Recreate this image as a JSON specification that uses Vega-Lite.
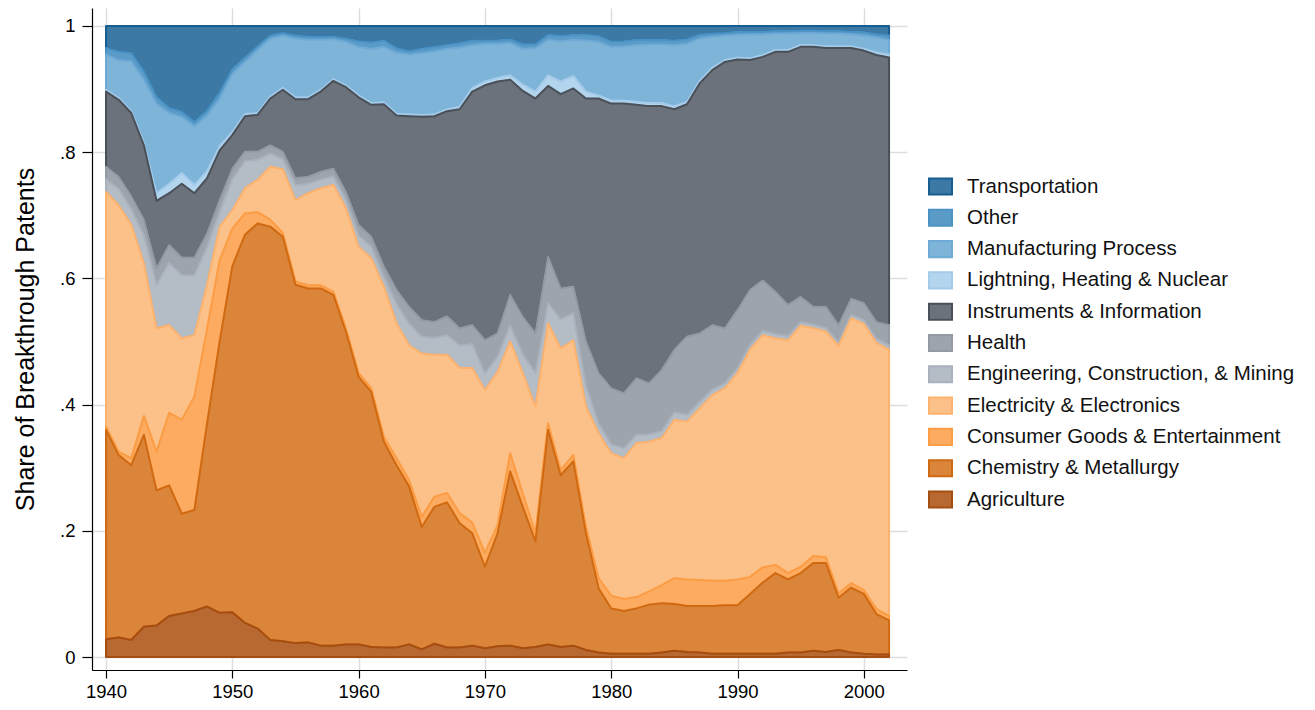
{
"$schema": "https://vega.github.io/schema/vega-lite/v6.json",
"width": 815, "height": 662,
"autosize": "none",
"padding": {"left": 92, "top": 8, "right": 408, "bottom": 40},
"background": "white",
"config": {"view": {"stroke": null}, "font": "Liberation Sans"},
"data": {"values": [
{"year":1940,"cat":"Transportation","share":0.035},{"year":1941,"cat":"Transportation","share":0.041},{"year":1942,"cat":"Transportation","share":0.043},{"year":1943,"cat":"Transportation","share":0.072},{"year":1944,"cat":"Transportation","share":0.112},{"year":1945,"cat":"Transportation","share":0.130},{"year":1946,"cat":"Transportation","share":0.136},{"year":1947,"cat":"Transportation","share":0.152},{"year":1948,"cat":"Transportation","share":0.134},{"year":1949,"cat":"Transportation","share":0.105},
{"year":1950,"cat":"Transportation","share":0.068},{"year":1951,"cat":"Transportation","share":0.050},{"year":1952,"cat":"Transportation","share":0.032},{"year":1953,"cat":"Transportation","share":0.015},{"year":1954,"cat":"Transportation","share":0.011},{"year":1955,"cat":"Transportation","share":0.015},{"year":1956,"cat":"Transportation","share":0.017},{"year":1957,"cat":"Transportation","share":0.017},{"year":1958,"cat":"Transportation","share":0.017},{"year":1959,"cat":"Transportation","share":0.020},
{"year":1960,"cat":"Transportation","share":0.024},{"year":1961,"cat":"Transportation","share":0.026},{"year":1962,"cat":"Transportation","share":0.023},{"year":1963,"cat":"Transportation","share":0.035},{"year":1964,"cat":"Transportation","share":0.040},{"year":1965,"cat":"Transportation","share":0.036},{"year":1966,"cat":"Transportation","share":0.033},{"year":1967,"cat":"Transportation","share":0.030},{"year":1968,"cat":"Transportation","share":0.027},{"year":1969,"cat":"Transportation","share":0.023},
{"year":1970,"cat":"Transportation","share":0.023},{"year":1971,"cat":"Transportation","share":0.023},{"year":1972,"cat":"Transportation","share":0.021},{"year":1973,"cat":"Transportation","share":0.029},{"year":1974,"cat":"Transportation","share":0.029},{"year":1975,"cat":"Transportation","share":0.014},{"year":1976,"cat":"Transportation","share":0.016},{"year":1977,"cat":"Transportation","share":0.014},{"year":1978,"cat":"Transportation","share":0.014},{"year":1979,"cat":"Transportation","share":0.016},
{"year":1980,"cat":"Transportation","share":0.025},{"year":1981,"cat":"Transportation","share":0.024},{"year":1982,"cat":"Transportation","share":0.022},{"year":1983,"cat":"Transportation","share":0.022},{"year":1984,"cat":"Transportation","share":0.022},{"year":1985,"cat":"Transportation","share":0.023},{"year":1986,"cat":"Transportation","share":0.021},{"year":1987,"cat":"Transportation","share":0.014},{"year":1988,"cat":"Transportation","share":0.012},{"year":1989,"cat":"Transportation","share":0.011},
{"year":1990,"cat":"Transportation","share":0.009},{"year":1991,"cat":"Transportation","share":0.009},{"year":1992,"cat":"Transportation","share":0.009},{"year":1993,"cat":"Transportation","share":0.008},{"year":1994,"cat":"Transportation","share":0.008},{"year":1995,"cat":"Transportation","share":0.007},{"year":1996,"cat":"Transportation","share":0.007},{"year":1997,"cat":"Transportation","share":0.008},{"year":1998,"cat":"Transportation","share":0.008},{"year":1999,"cat":"Transportation","share":0.009},
{"year":2000,"cat":"Transportation","share":0.010},{"year":2001,"cat":"Transportation","share":0.013},{"year":2002,"cat":"Transportation","share":0.015},
{"year":1940,"cat":"Other","share":0.010},{"year":1941,"cat":"Other","share":0.013},{"year":1942,"cat":"Other","share":0.013},{"year":1943,"cat":"Other","share":0.013},{"year":1944,"cat":"Other","share":0.011},{"year":1945,"cat":"Other","share":0.008},{"year":1946,"cat":"Other","share":0.008},{"year":1947,"cat":"Other","share":0.007},{"year":1948,"cat":"Other","share":0.008},{"year":1949,"cat":"Other","share":0.010},
{"year":1950,"cat":"Other","share":0.008},{"year":1951,"cat":"Other","share":0.007},{"year":1952,"cat":"Other","share":0.006},{"year":1953,"cat":"Other","share":0.005},{"year":1954,"cat":"Other","share":0.004},{"year":1955,"cat":"Other","share":0.005},{"year":1956,"cat":"Other","share":0.005},{"year":1957,"cat":"Other","share":0.005},{"year":1958,"cat":"Other","share":0.004},{"year":1959,"cat":"Other","share":0.005},
{"year":1960,"cat":"Other","share":0.009},{"year":1961,"cat":"Other","share":0.010},{"year":1962,"cat":"Other","share":0.010},{"year":1963,"cat":"Other","share":0.007},{"year":1964,"cat":"Other","share":0.005},{"year":1965,"cat":"Other","share":0.007},{"year":1966,"cat":"Other","share":0.007},{"year":1967,"cat":"Other","share":0.006},{"year":1968,"cat":"Other","share":0.007},{"year":1969,"cat":"Other","share":0.007},
{"year":1970,"cat":"Other","share":0.005},{"year":1971,"cat":"Other","share":0.005},{"year":1972,"cat":"Other","share":0.006},{"year":1973,"cat":"Other","share":0.007},{"year":1974,"cat":"Other","share":0.006},{"year":1975,"cat":"Other","share":0.008},{"year":1976,"cat":"Other","share":0.008},{"year":1977,"cat":"Other","share":0.008},{"year":1978,"cat":"Other","share":0.009},{"year":1979,"cat":"Other","share":0.009},
{"year":1980,"cat":"Other","share":0.008},{"year":1981,"cat":"Other","share":0.008},{"year":1982,"cat":"Other","share":0.008},{"year":1983,"cat":"Other","share":0.007},{"year":1984,"cat":"Other","share":0.007},{"year":1985,"cat":"Other","share":0.007},{"year":1986,"cat":"Other","share":0.007},{"year":1987,"cat":"Other","share":0.006},{"year":1988,"cat":"Other","share":0.005},{"year":1989,"cat":"Other","share":0.004},
{"year":1990,"cat":"Other","share":0.005},{"year":1991,"cat":"Other","share":0.004},{"year":1992,"cat":"Other","share":0.004},{"year":1993,"cat":"Other","share":0.004},{"year":1994,"cat":"Other","share":0.004},{"year":1995,"cat":"Other","share":0.004},{"year":1996,"cat":"Other","share":0.004},{"year":1997,"cat":"Other","share":0.004},{"year":1998,"cat":"Other","share":0.004},{"year":1999,"cat":"Other","share":0.004},
{"year":2000,"cat":"Other","share":0.005},{"year":2001,"cat":"Other","share":0.005},{"year":2002,"cat":"Other","share":0.007},
{"year":1940,"cat":"Manufacturing Process","share":0.056},{"year":1941,"cat":"Manufacturing Process","share":0.060},{"year":1942,"cat":"Manufacturing Process","share":0.079},{"year":1943,"cat":"Manufacturing Process","share":0.100},{"year":1944,"cat":"Manufacturing Process","share":0.142},{"year":1945,"cat":"Manufacturing Process","share":0.112},{"year":1946,"cat":"Manufacturing Process","share":0.089},{"year":1947,"cat":"Manufacturing Process","share":0.093},{"year":1948,"cat":"Manufacturing Process","share":0.088},{"year":1949,"cat":"Manufacturing Process","share":0.075},
{"year":1950,"cat":"Manufacturing Process","share":0.092},{"year":1951,"cat":"Manufacturing Process","share":0.082},{"year":1952,"cat":"Manufacturing Process","share":0.100},{"year":1953,"cat":"Manufacturing Process","share":0.092},{"year":1954,"cat":"Manufacturing Process","share":0.083},{"year":1955,"cat":"Manufacturing Process","share":0.093},{"year":1956,"cat":"Manufacturing Process","share":0.091},{"year":1957,"cat":"Manufacturing Process","share":0.079},{"year":1958,"cat":"Manufacturing Process","share":0.063},{"year":1959,"cat":"Manufacturing Process","share":0.069},
{"year":1960,"cat":"Manufacturing Process","share":0.077},{"year":1961,"cat":"Manufacturing Process","share":0.086},{"year":1962,"cat":"Manufacturing Process","share":0.088},{"year":1963,"cat":"Manufacturing Process","share":0.097},{"year":1964,"cat":"Manufacturing Process","share":0.095},{"year":1965,"cat":"Manufacturing Process","share":0.098},{"year":1966,"cat":"Manufacturing Process","share":0.100},{"year":1967,"cat":"Manufacturing Process","share":0.096},{"year":1968,"cat":"Manufacturing Process","share":0.094},{"year":1969,"cat":"Manufacturing Process","share":0.068},
{"year":1970,"cat":"Manufacturing Process","share":0.060},{"year":1971,"cat":"Manufacturing Process","share":0.054},{"year":1972,"cat":"Manufacturing Process","share":0.051},{"year":1973,"cat":"Manufacturing Process","share":0.057},{"year":1974,"cat":"Manufacturing Process","share":0.069},{"year":1975,"cat":"Manufacturing Process","share":0.056},{"year":1976,"cat":"Manufacturing Process","share":0.064},{"year":1977,"cat":"Manufacturing Process","share":0.057},{"year":1978,"cat":"Manufacturing Process","share":0.081},{"year":1979,"cat":"Manufacturing Process","share":0.085},
{"year":1980,"cat":"Manufacturing Process","share":0.085},{"year":1981,"cat":"Manufacturing Process","share":0.086},{"year":1982,"cat":"Manufacturing Process","share":0.090},{"year":1983,"cat":"Manufacturing Process","share":0.093},{"year":1984,"cat":"Manufacturing Process","share":0.093},{"year":1985,"cat":"Manufacturing Process","share":0.097},{"year":1986,"cat":"Manufacturing Process","share":0.092},{"year":1987,"cat":"Manufacturing Process","share":0.067},{"year":1988,"cat":"Manufacturing Process","share":0.049},{"year":1989,"cat":"Manufacturing Process","share":0.039},
{"year":1990,"cat":"Manufacturing Process","share":0.036},{"year":1991,"cat":"Manufacturing Process","share":0.038},{"year":1992,"cat":"Manufacturing Process","share":0.033},{"year":1993,"cat":"Manufacturing Process","share":0.026},{"year":1994,"cat":"Manufacturing Process","share":0.026},{"year":1995,"cat":"Manufacturing Process","share":0.019},{"year":1996,"cat":"Manufacturing Process","share":0.019},{"year":1997,"cat":"Manufacturing Process","share":0.020},{"year":1998,"cat":"Manufacturing Process","share":0.020},{"year":1999,"cat":"Manufacturing Process","share":0.019},
{"year":2000,"cat":"Manufacturing Process","share":0.021},{"year":2001,"cat":"Manufacturing Process","share":0.024},{"year":2002,"cat":"Manufacturing Process","share":0.023},
{"year":1940,"cat":"Lightning, Heating & Nuclear","share":0.003},{"year":1941,"cat":"Lightning, Heating & Nuclear","share":0.003},{"year":1942,"cat":"Lightning, Heating & Nuclear","share":0.003},{"year":1943,"cat":"Lightning, Heating & Nuclear","share":0.004},{"year":1944,"cat":"Lightning, Heating & Nuclear","share":0.012},{"year":1945,"cat":"Lightning, Heating & Nuclear","share":0.015},{"year":1946,"cat":"Lightning, Heating & Nuclear","share":0.017},{"year":1947,"cat":"Lightning, Heating & Nuclear","share":0.013},{"year":1948,"cat":"Lightning, Heating & Nuclear","share":0.011},{"year":1949,"cat":"Lightning, Heating & Nuclear","share":0.007},
{"year":1950,"cat":"Lightning, Heating & Nuclear","share":0.005},{"year":1951,"cat":"Lightning, Heating & Nuclear","share":0.004},{"year":1952,"cat":"Lightning, Heating & Nuclear","share":0.003},{"year":1953,"cat":"Lightning, Heating & Nuclear","share":0.003},{"year":1954,"cat":"Lightning, Heating & Nuclear","share":0.003},{"year":1955,"cat":"Lightning, Heating & Nuclear","share":0.003},{"year":1956,"cat":"Lightning, Heating & Nuclear","share":0.003},{"year":1957,"cat":"Lightning, Heating & Nuclear","share":0.003},{"year":1958,"cat":"Lightning, Heating & Nuclear","share":0.003},{"year":1959,"cat":"Lightning, Heating & Nuclear","share":0.003},
{"year":1960,"cat":"Lightning, Heating & Nuclear","share":0.003},{"year":1961,"cat":"Lightning, Heating & Nuclear","share":0.003},{"year":1962,"cat":"Lightning, Heating & Nuclear","share":0.003},{"year":1963,"cat":"Lightning, Heating & Nuclear","share":0.003},{"year":1964,"cat":"Lightning, Heating & Nuclear","share":0.003},{"year":1965,"cat":"Lightning, Heating & Nuclear","share":0.003},{"year":1966,"cat":"Lightning, Heating & Nuclear","share":0.003},{"year":1967,"cat":"Lightning, Heating & Nuclear","share":0.003},{"year":1968,"cat":"Lightning, Heating & Nuclear","share":0.004},{"year":1969,"cat":"Lightning, Heating & Nuclear","share":0.006},
{"year":1970,"cat":"Lightning, Heating & Nuclear","share":0.006},{"year":1971,"cat":"Lightning, Heating & Nuclear","share":0.006},{"year":1972,"cat":"Lightning, Heating & Nuclear","share":0.007},{"year":1973,"cat":"Lightning, Heating & Nuclear","share":0.010},{"year":1974,"cat":"Lightning, Heating & Nuclear","share":0.011},{"year":1975,"cat":"Lightning, Heating & Nuclear","share":0.017},{"year":1976,"cat":"Lightning, Heating & Nuclear","share":0.020},{"year":1977,"cat":"Lightning, Heating & Nuclear","share":0.020},{"year":1978,"cat":"Lightning, Heating & Nuclear","share":0.011},{"year":1979,"cat":"Lightning, Heating & Nuclear","share":0.005},
{"year":1980,"cat":"Lightning, Heating & Nuclear","share":0.005},{"year":1981,"cat":"Lightning, Heating & Nuclear","share":0.005},{"year":1982,"cat":"Lightning, Heating & Nuclear","share":0.005},{"year":1983,"cat":"Lightning, Heating & Nuclear","share":0.005},{"year":1984,"cat":"Lightning, Heating & Nuclear","share":0.005},{"year":1985,"cat":"Lightning, Heating & Nuclear","share":0.005},{"year":1986,"cat":"Lightning, Heating & Nuclear","share":0.004},{"year":1987,"cat":"Lightning, Heating & Nuclear","share":0.004},{"year":1988,"cat":"Lightning, Heating & Nuclear","share":0.004},{"year":1989,"cat":"Lightning, Heating & Nuclear","share":0.003},
{"year":1990,"cat":"Lightning, Heating & Nuclear","share":0.003},{"year":1991,"cat":"Lightning, Heating & Nuclear","share":0.003},{"year":1992,"cat":"Lightning, Heating & Nuclear","share":0.003},{"year":1993,"cat":"Lightning, Heating & Nuclear","share":0.003},{"year":1994,"cat":"Lightning, Heating & Nuclear","share":0.003},{"year":1995,"cat":"Lightning, Heating & Nuclear","share":0.003},{"year":1996,"cat":"Lightning, Heating & Nuclear","share":0.003},{"year":1997,"cat":"Lightning, Heating & Nuclear","share":0.003},{"year":1998,"cat":"Lightning, Heating & Nuclear","share":0.003},{"year":1999,"cat":"Lightning, Heating & Nuclear","share":0.003},
{"year":2000,"cat":"Lightning, Heating & Nuclear","share":0.003},{"year":2001,"cat":"Lightning, Heating & Nuclear","share":0.004},{"year":2002,"cat":"Lightning, Heating & Nuclear","share":0.005},
{"year":1940,"cat":"Instruments & Information","share":0.119},{"year":1941,"cat":"Instruments & Information","share":0.122},{"year":1942,"cat":"Instruments & Information","share":0.132},{"year":1943,"cat":"Instruments & Information","share":0.118},{"year":1944,"cat":"Instruments & Information","share":0.107},{"year":1945,"cat":"Instruments & Information","share":0.082},{"year":1946,"cat":"Instruments & Information","share":0.117},{"year":1947,"cat":"Instruments & Information","share":0.102},{"year":1948,"cat":"Instruments & Information","share":0.088},{"year":1949,"cat":"Instruments & Information","share":0.079},
{"year":1950,"cat":"Instruments & Information","share":0.053},{"year":1951,"cat":"Instruments & Information","share":0.056},{"year":1952,"cat":"Instruments & Information","share":0.058},{"year":1953,"cat":"Instruments & Information","share":0.074},{"year":1954,"cat":"Instruments & Information","share":0.098},{"year":1955,"cat":"Instruments & Information","share":0.125},{"year":1956,"cat":"Instruments & Information","share":0.123},{"year":1957,"cat":"Instruments & Information","share":0.127},{"year":1958,"cat":"Instruments & Information","share":0.139},{"year":1959,"cat":"Instruments & Information","share":0.166},
{"year":1960,"cat":"Instruments & Information","share":0.202},{"year":1961,"cat":"Instruments & Information","share":0.209},{"year":1962,"cat":"Instruments & Information","share":0.257},{"year":1963,"cat":"Instruments & Information","share":0.276},{"year":1964,"cat":"Instruments & Information","share":0.302},{"year":1965,"cat":"Instruments & Information","share":0.322},{"year":1966,"cat":"Instruments & Information","share":0.326},{"year":1967,"cat":"Instruments & Information","share":0.325},{"year":1968,"cat":"Instruments & Information","share":0.347},{"year":1969,"cat":"Instruments & Information","share":0.370},
{"year":1970,"cat":"Instruments & Information","share":0.404},{"year":1971,"cat":"Instruments & Information","share":0.399},{"year":1972,"cat":"Instruments & Information","share":0.341},{"year":1973,"cat":"Instruments & Information","share":0.358},{"year":1974,"cat":"Instruments & Information","share":0.372},{"year":1975,"cat":"Instruments & Information","share":0.271},{"year":1976,"cat":"Instruments & Information","share":0.308},{"year":1977,"cat":"Instruments & Information","share":0.314},{"year":1978,"cat":"Instruments & Information","share":0.385},{"year":1979,"cat":"Instruments & Information","share":0.435},
{"year":1980,"cat":"Instruments & Information","share":0.451},{"year":1981,"cat":"Instruments & Information","share":0.459},{"year":1982,"cat":"Instruments & Information","share":0.433},{"year":1983,"cat":"Instruments & Information","share":0.439},{"year":1984,"cat":"Instruments & Information","share":0.418},{"year":1985,"cat":"Instruments & Information","share":0.381},{"year":1986,"cat":"Instruments & Information","share":0.368},{"year":1987,"cat":"Instruments & Information","share":0.396},{"year":1988,"cat":"Instruments & Information","share":0.404},{"year":1989,"cat":"Instruments & Information","share":0.422},
{"year":1990,"cat":"Instruments & Information","share":0.397},{"year":1991,"cat":"Instruments & Information","share":0.364},{"year":1992,"cat":"Instruments & Information","share":0.354},{"year":1993,"cat":"Instruments & Information","share":0.380},{"year":1994,"cat":"Instruments & Information","share":0.401},{"year":1995,"cat":"Instruments & Information","share":0.396},{"year":1996,"cat":"Instruments & Information","share":0.412},{"year":1997,"cat":"Instruments & Information","share":0.410},{"year":1998,"cat":"Instruments & Information","share":0.439},{"year":1999,"cat":"Instruments & Information","share":0.397},
{"year":2000,"cat":"Instruments & Information","share":0.400},{"year":2001,"cat":"Instruments & Information","share":0.423},{"year":2002,"cat":"Instruments & Information","share":0.424},
{"year":1940,"cat":"Health","share":0.020},{"year":1941,"cat":"Health","share":0.019},{"year":1942,"cat":"Health","share":0.020},{"year":1943,"cat":"Health","share":0.025},{"year":1944,"cat":"Health","share":0.026},{"year":1945,"cat":"Health","share":0.028},{"year":1946,"cat":"Health","share":0.028},{"year":1947,"cat":"Health","share":0.028},{"year":1948,"cat":"Health","share":0.021},{"year":1949,"cat":"Health","share":0.019},
{"year":1950,"cat":"Health","share":0.017},{"year":1951,"cat":"Health","share":0.015},{"year":1952,"cat":"Health","share":0.013},{"year":1953,"cat":"Health","share":0.013},{"year":1954,"cat":"Health","share":0.012},{"year":1955,"cat":"Health","share":0.011},{"year":1956,"cat":"Health","share":0.011},{"year":1957,"cat":"Health","share":0.012},{"year":1958,"cat":"Health","share":0.012},{"year":1959,"cat":"Health","share":0.012},
{"year":1960,"cat":"Health","share":0.017},{"year":1961,"cat":"Health","share":0.016},{"year":1962,"cat":"Health","share":0.016},{"year":1963,"cat":"Health","share":0.022},{"year":1964,"cat":"Health","share":0.027},{"year":1965,"cat":"Health","share":0.026},{"year":1966,"cat":"Health","share":0.025},{"year":1967,"cat":"Health","share":0.030},{"year":1968,"cat":"Health","share":0.027},{"year":1969,"cat":"Health","share":0.030},
{"year":1970,"cat":"Health","share":0.052},{"year":1971,"cat":"Health","share":0.037},{"year":1972,"cat":"Health","share":0.048},{"year":1973,"cat":"Health","share":0.059},{"year":1974,"cat":"Health","share":0.063},{"year":1975,"cat":"Health","share":0.073},{"year":1976,"cat":"Health","share":0.049},{"year":1977,"cat":"Health","share":0.042},{"year":1978,"cat":"Health","share":0.070},{"year":1979,"cat":"Health","share":0.080},
{"year":1980,"cat":"Health","share":0.089},{"year":1981,"cat":"Health","share":0.087},{"year":1982,"cat":"Health","share":0.090},{"year":1983,"cat":"Health","share":0.081},{"year":1984,"cat":"Health","share":0.097},{"year":1985,"cat":"Health","share":0.099},{"year":1986,"cat":"Health","share":0.124},{"year":1987,"cat":"Health","share":0.109},{"year":1988,"cat":"Health","share":0.102},{"year":1989,"cat":"Health","share":0.087},
{"year":1990,"cat":"Health","share":0.092},{"year":1991,"cat":"Health","share":0.087},{"year":1992,"cat":"Health","share":0.080},{"year":1993,"cat":"Health","share":0.067},{"year":1994,"cat":"Health","share":0.049},{"year":1995,"cat":"Health","share":0.040},{"year":1996,"cat":"Health","share":0.028},{"year":1997,"cat":"Health","share":0.033},{"year":1998,"cat":"Health","share":0.027},{"year":1999,"cat":"Health","share":0.025},
{"year":2000,"cat":"Health","share":0.027},{"year":2001,"cat":"Health","share":0.026},{"year":2002,"cat":"Health","share":0.032},
{"year":1940,"cat":"Engineering, Construction, & Mining","share":0.020},{"year":1941,"cat":"Engineering, Construction, & Mining","share":0.026},{"year":1942,"cat":"Engineering, Construction, & Mining","share":0.025},{"year":1943,"cat":"Engineering, Construction, & Mining","share":0.044},{"year":1944,"cat":"Engineering, Construction, & Mining","share":0.069},{"year":1945,"cat":"Engineering, Construction, & Mining","share":0.099},{"year":1946,"cat":"Engineering, Construction, & Mining","share":0.100},{"year":1947,"cat":"Engineering, Construction, & Mining","share":0.095},{"year":1948,"cat":"Engineering, Construction, & Mining","share":0.060},{"year":1949,"cat":"Engineering, Construction, & Mining","share":0.023},
{"year":1950,"cat":"Engineering, Construction, & Mining","share":0.049},{"year":1951,"cat":"Engineering, Construction, & Mining","share":0.043},{"year":1952,"cat":"Engineering, Construction, & Mining","share":0.032},{"year":1953,"cat":"Engineering, Construction, & Mining","share":0.021},{"year":1954,"cat":"Engineering, Construction, & Mining","share":0.016},{"year":1955,"cat":"Engineering, Construction, & Mining","share":0.024},{"year":1956,"cat":"Engineering, Construction, & Mining","share":0.015},{"year":1957,"cat":"Engineering, Construction, & Mining","share":0.014},{"year":1958,"cat":"Engineering, Construction, & Mining","share":0.014},{"year":1959,"cat":"Engineering, Construction, & Mining","share":0.014},
{"year":1960,"cat":"Engineering, Construction, & Mining","share":0.018},{"year":1961,"cat":"Engineering, Construction, & Mining","share":0.018},{"year":1962,"cat":"Engineering, Construction, & Mining","share":0.016},{"year":1963,"cat":"Engineering, Construction, & Mining","share":0.031},{"year":1964,"cat":"Engineering, Construction, & Mining","share":0.034},{"year":1965,"cat":"Engineering, Construction, & Mining","share":0.027},{"year":1966,"cat":"Engineering, Construction, & Mining","share":0.027},{"year":1967,"cat":"Engineering, Construction, & Mining","share":0.031},{"year":1968,"cat":"Engineering, Construction, & Mining","share":0.036},{"year":1969,"cat":"Engineering, Construction, & Mining","share":0.038},
{"year":1970,"cat":"Engineering, Construction, & Mining","share":0.027},{"year":1971,"cat":"Engineering, Construction, & Mining","share":0.024},{"year":1972,"cat":"Engineering, Construction, & Mining","share":0.026},{"year":1973,"cat":"Engineering, Construction, & Mining","share":0.030},{"year":1974,"cat":"Engineering, Construction, & Mining","share":0.053},{"year":1975,"cat":"Engineering, Construction, & Mining","share":0.032},{"year":1976,"cat":"Engineering, Construction, & Mining","share":0.046},{"year":1977,"cat":"Engineering, Construction, & Mining","share":0.043},{"year":1978,"cat":"Engineering, Construction, & Mining","share":0.033},{"year":1979,"cat":"Engineering, Construction, & Mining","share":0.015},
{"year":1980,"cat":"Engineering, Construction, & Mining","share":0.014},{"year":1981,"cat":"Engineering, Construction, & Mining","share":0.016},{"year":1982,"cat":"Engineering, Construction, & Mining","share":0.013},{"year":1983,"cat":"Engineering, Construction, & Mining","share":0.012},{"year":1984,"cat":"Engineering, Construction, & Mining","share":0.011},{"year":1985,"cat":"Engineering, Construction, & Mining","share":0.012},{"year":1986,"cat":"Engineering, Construction, & Mining","share":0.011},{"year":1987,"cat":"Engineering, Construction, & Mining","share":0.010},{"year":1988,"cat":"Engineering, Construction, & Mining","share":0.009},{"year":1989,"cat":"Engineering, Construction, & Mining","share":0.008},
{"year":1990,"cat":"Engineering, Construction, & Mining","share":0.008},{"year":1991,"cat":"Engineering, Construction, & Mining","share":0.008},{"year":1992,"cat":"Engineering, Construction, & Mining","share":0.007},{"year":1993,"cat":"Engineering, Construction, & Mining","share":0.007},{"year":1994,"cat":"Engineering, Construction, & Mining","share":0.007},{"year":1995,"cat":"Engineering, Construction, & Mining","share":0.006},{"year":1996,"cat":"Engineering, Construction, & Mining","share":0.006},{"year":1997,"cat":"Engineering, Construction, & Mining","share":0.006},{"year":1998,"cat":"Engineering, Construction, & Mining","share":0.006},{"year":1999,"cat":"Engineering, Construction, & Mining","share":0.006},
{"year":2000,"cat":"Engineering, Construction, & Mining","share":0.006},{"year":2001,"cat":"Engineering, Construction, & Mining","share":0.007},{"year":2002,"cat":"Engineering, Construction, & Mining","share":0.007},
{"year":1940,"cat":"Electricity & Electronics","share":0.372},{"year":1941,"cat":"Electricity & Electronics","share":0.391},{"year":1942,"cat":"Electricity & Electronics","share":0.370},{"year":1943,"cat":"Electricity & Electronics","share":0.242},{"year":1944,"cat":"Electricity & Electronics","share":0.196},{"year":1945,"cat":"Electricity & Electronics","share":0.139},{"year":1946,"cat":"Electricity & Electronics","share":0.129},{"year":1947,"cat":"Electricity & Electronics","share":0.097},{"year":1948,"cat":"Electricity & Electronics","share":0.070},{"year":1949,"cat":"Electricity & Electronics","share":0.053},
{"year":1950,"cat":"Electricity & Electronics","share":0.029},{"year":1951,"cat":"Electricity & Electronics","share":0.040},{"year":1952,"cat":"Electricity & Electronics","share":0.051},{"year":1953,"cat":"Electricity & Electronics","share":0.084},{"year":1954,"cat":"Electricity & Electronics","share":0.101},{"year":1955,"cat":"Electricity & Electronics","share":0.129},{"year":1956,"cat":"Electricity & Electronics","share":0.146},{"year":1957,"cat":"Electricity & Electronics","share":0.154},{"year":1958,"cat":"Electricity & Electronics","share":0.169},{"year":1959,"cat":"Electricity & Electronics","share":0.191},
{"year":1960,"cat":"Electricity & Electronics","share":0.200},{"year":1961,"cat":"Electricity & Electronics","share":0.206},{"year":1962,"cat":"Electricity & Electronics","share":0.238},{"year":1963,"cat":"Electricity & Electronics","share":0.214},{"year":1964,"cat":"Electricity & Electronics","share":0.214},{"year":1965,"cat":"Electricity & Electronics","share":0.259},{"year":1966,"cat":"Electricity & Electronics","share":0.225},{"year":1967,"cat":"Electricity & Electronics","share":0.219},{"year":1968,"cat":"Electricity & Electronics","share":0.230},{"year":1969,"cat":"Electricity & Electronics","share":0.245},
{"year":1970,"cat":"Electricity & Electronics","share":0.258},{"year":1971,"cat":"Electricity & Electronics","share":0.243},{"year":1972,"cat":"Electricity & Electronics","share":0.177},{"year":1973,"cat":"Electricity & Electronics","share":0.191},{"year":1974,"cat":"Electricity & Electronics","share":0.201},{"year":1975,"cat":"Electricity & Electronics","share":0.159},{"year":1976,"cat":"Electricity & Electronics","share":0.193},{"year":1977,"cat":"Electricity & Electronics","share":0.182},{"year":1978,"cat":"Electricity & Electronics","share":0.191},{"year":1979,"cat":"Electricity & Electronics","share":0.230},
{"year":1980,"cat":"Electricity & Electronics","share":0.226},{"year":1981,"cat":"Electricity & Electronics","share":0.223},{"year":1982,"cat":"Electricity & Electronics","share":0.244},{"year":1983,"cat":"Electricity & Electronics","share":0.237},{"year":1984,"cat":"Electricity & Electronics","share":0.233},{"year":1985,"cat":"Electricity & Electronics","share":0.251},{"year":1986,"cat":"Electricity & Electronics","share":0.250},{"year":1987,"cat":"Electricity & Electronics","share":0.272},{"year":1988,"cat":"Electricity & Electronics","share":0.294},{"year":1989,"cat":"Electricity & Electronics","share":0.305},
{"year":1990,"cat":"Electricity & Electronics","share":0.327},{"year":1991,"cat":"Electricity & Electronics","share":0.360},{"year":1992,"cat":"Electricity & Electronics","share":0.368},{"year":1993,"cat":"Electricity & Electronics","share":0.359},{"year":1994,"cat":"Electricity & Electronics","share":0.369},{"year":1995,"cat":"Electricity & Electronics","share":0.382},{"year":1996,"cat":"Electricity & Electronics","share":0.361},{"year":1997,"cat":"Electricity & Electronics","share":0.358},{"year":1998,"cat":"Electricity & Electronics","share":0.392},{"year":1999,"cat":"Electricity & Electronics","share":0.420},
{"year":2000,"cat":"Electricity & Electronics","share":0.422},{"year":2001,"cat":"Electricity & Electronics","share":0.422},{"year":2002,"cat":"Electricity & Electronics","share":0.422},
{"year":1940,"cat":"Consumer Goods & Entertainment","share":0.005},{"year":1941,"cat":"Consumer Goods & Entertainment","share":0.005},{"year":1942,"cat":"Consumer Goods & Entertainment","share":0.011},{"year":1943,"cat":"Consumer Goods & Entertainment","share":0.030},{"year":1944,"cat":"Consumer Goods & Entertainment","share":0.061},{"year":1945,"cat":"Consumer Goods & Entertainment","share":0.115},{"year":1946,"cat":"Consumer Goods & Entertainment","share":0.149},{"year":1947,"cat":"Consumer Goods & Entertainment","share":0.180},{"year":1948,"cat":"Consumer Goods & Entertainment","share":0.150},{"year":1949,"cat":"Consumer Goods & Entertainment","share":0.129},
{"year":1950,"cat":"Consumer Goods & Entertainment","share":0.060},{"year":1951,"cat":"Consumer Goods & Entertainment","share":0.034},{"year":1952,"cat":"Consumer Goods & Entertainment","share":0.018},{"year":1953,"cat":"Consumer Goods & Entertainment","share":0.011},{"year":1954,"cat":"Consumer Goods & Entertainment","share":0.006},{"year":1955,"cat":"Consumer Goods & Entertainment","share":0.005},{"year":1956,"cat":"Consumer Goods & Entertainment","share":0.005},{"year":1957,"cat":"Consumer Goods & Entertainment","share":0.005},{"year":1958,"cat":"Consumer Goods & Entertainment","share":0.005},{"year":1959,"cat":"Consumer Goods & Entertainment","share":0.005},
{"year":1960,"cat":"Consumer Goods & Entertainment","share":0.006},{"year":1961,"cat":"Consumer Goods & Entertainment","share":0.006},{"year":1962,"cat":"Consumer Goods & Entertainment","share":0.008},{"year":1963,"cat":"Consumer Goods & Entertainment","share":0.011},{"year":1964,"cat":"Consumer Goods & Entertainment","share":0.010},{"year":1965,"cat":"Consumer Goods & Entertainment","share":0.016},{"year":1966,"cat":"Consumer Goods & Entertainment","share":0.016},{"year":1967,"cat":"Consumer Goods & Entertainment","share":0.015},{"year":1968,"cat":"Consumer Goods & Entertainment","share":0.016},{"year":1969,"cat":"Consumer Goods & Entertainment","share":0.017},
{"year":1970,"cat":"Consumer Goods & Entertainment","share":0.022},{"year":1971,"cat":"Consumer Goods & Entertainment","share":0.013},{"year":1972,"cat":"Consumer Goods & Entertainment","share":0.029},{"year":1973,"cat":"Consumer Goods & Entertainment","share":0.021},{"year":1974,"cat":"Consumer Goods & Entertainment","share":0.013},{"year":1975,"cat":"Consumer Goods & Entertainment","share":0.010},{"year":1976,"cat":"Consumer Goods & Entertainment","share":0.008},{"year":1977,"cat":"Consumer Goods & Entertainment","share":0.010},{"year":1978,"cat":"Consumer Goods & Entertainment","share":0.010},{"year":1979,"cat":"Consumer Goods & Entertainment","share":0.016},
{"year":1980,"cat":"Consumer Goods & Entertainment","share":0.020},{"year":1981,"cat":"Consumer Goods & Entertainment","share":0.019},{"year":1982,"cat":"Consumer Goods & Entertainment","share":0.018},{"year":1983,"cat":"Consumer Goods & Entertainment","share":0.021},{"year":1984,"cat":"Consumer Goods & Entertainment","share":0.029},{"year":1985,"cat":"Consumer Goods & Entertainment","share":0.041},{"year":1986,"cat":"Consumer Goods & Entertainment","share":0.042},{"year":1987,"cat":"Consumer Goods & Entertainment","share":0.041},{"year":1988,"cat":"Consumer Goods & Entertainment","share":0.040},{"year":1989,"cat":"Consumer Goods & Entertainment","share":0.039},
{"year":1990,"cat":"Consumer Goods & Entertainment","share":0.041},{"year":1991,"cat":"Consumer Goods & Entertainment","share":0.027},{"year":1992,"cat":"Consumer Goods & Entertainment","share":0.024},{"year":1993,"cat":"Consumer Goods & Entertainment","share":0.013},{"year":1994,"cat":"Consumer Goods & Entertainment","share":0.010},{"year":1995,"cat":"Consumer Goods & Entertainment","share":0.010},{"year":1996,"cat":"Consumer Goods & Entertainment","share":0.011},{"year":1997,"cat":"Consumer Goods & Entertainment","share":0.009},{"year":1998,"cat":"Consumer Goods & Entertainment","share":0.007},{"year":1999,"cat":"Consumer Goods & Entertainment","share":0.007},
{"year":2000,"cat":"Consumer Goods & Entertainment","share":0.006},{"year":2001,"cat":"Consumer Goods & Entertainment","share":0.008},{"year":2002,"cat":"Consumer Goods & Entertainment","share":0.007},
{"year":1940,"cat":"Chemistry & Metallurgy","share":0.332},{"year":1941,"cat":"Chemistry & Metallurgy","share":0.289},{"year":1942,"cat":"Chemistry & Metallurgy","share":0.277},{"year":1943,"cat":"Chemistry & Metallurgy","share":0.304},{"year":1944,"cat":"Chemistry & Metallurgy","share":0.214},{"year":1945,"cat":"Chemistry & Metallurgy","share":0.207},{"year":1946,"cat":"Chemistry & Metallurgy","share":0.158},{"year":1947,"cat":"Chemistry & Metallurgy","share":0.160},{"year":1948,"cat":"Chemistry & Metallurgy","share":0.290},{"year":1949,"cat":"Chemistry & Metallurgy","share":0.430},
{"year":1950,"cat":"Chemistry & Metallurgy","share":0.548},{"year":1951,"cat":"Chemistry & Metallurgy","share":0.615},{"year":1952,"cat":"Chemistry & Metallurgy","share":0.642},{"year":1953,"cat":"Chemistry & Metallurgy","share":0.655},{"year":1954,"cat":"Chemistry & Metallurgy","share":0.641},{"year":1955,"cat":"Chemistry & Metallurgy","share":0.568},{"year":1956,"cat":"Chemistry & Metallurgy","share":0.561},{"year":1957,"cat":"Chemistry & Metallurgy","share":0.566},{"year":1958,"cat":"Chemistry & Metallurgy","share":0.556},{"year":1959,"cat":"Chemistry & Metallurgy","share":0.495},
{"year":1960,"cat":"Chemistry & Metallurgy","share":0.424},{"year":1961,"cat":"Chemistry & Metallurgy","share":0.404},{"year":1962,"cat":"Chemistry & Metallurgy","share":0.326},{"year":1963,"cat":"Chemistry & Metallurgy","share":0.289},{"year":1964,"cat":"Chemistry & Metallurgy","share":0.250},{"year":1965,"cat":"Chemistry & Metallurgy","share":0.194},{"year":1966,"cat":"Chemistry & Metallurgy","share":0.217},{"year":1967,"cat":"Chemistry & Metallurgy","share":0.230},{"year":1968,"cat":"Chemistry & Metallurgy","share":0.197},{"year":1969,"cat":"Chemistry & Metallurgy","share":0.178},
{"year":1970,"cat":"Chemistry & Metallurgy","share":0.129},{"year":1971,"cat":"Chemistry & Metallurgy","share":0.179},{"year":1972,"cat":"Chemistry & Metallurgy","share":0.276},{"year":1973,"cat":"Chemistry & Metallurgy","share":0.224},{"year":1974,"cat":"Chemistry & Metallurgy","share":0.167},{"year":1975,"cat":"Chemistry & Metallurgy","share":0.340},{"year":1976,"cat":"Chemistry & Metallurgy","share":0.272},{"year":1977,"cat":"Chemistry & Metallurgy","share":0.292},{"year":1978,"cat":"Chemistry & Metallurgy","share":0.185},{"year":1979,"cat":"Chemistry & Metallurgy","share":0.102},
{"year":1980,"cat":"Chemistry & Metallurgy","share":0.072},{"year":1981,"cat":"Chemistry & Metallurgy","share":0.068},{"year":1982,"cat":"Chemistry & Metallurgy","share":0.072},{"year":1983,"cat":"Chemistry & Metallurgy","share":0.078},{"year":1984,"cat":"Chemistry & Metallurgy","share":0.078},{"year":1985,"cat":"Chemistry & Metallurgy","share":0.074},{"year":1986,"cat":"Chemistry & Metallurgy","share":0.073},{"year":1987,"cat":"Chemistry & Metallurgy","share":0.074},{"year":1988,"cat":"Chemistry & Metallurgy","share":0.076},{"year":1989,"cat":"Chemistry & Metallurgy","share":0.077},
{"year":1990,"cat":"Chemistry & Metallurgy","share":0.077},{"year":1991,"cat":"Chemistry & Metallurgy","share":0.095},{"year":1992,"cat":"Chemistry & Metallurgy","share":0.113},{"year":1993,"cat":"Chemistry & Metallurgy","share":0.128},{"year":1994,"cat":"Chemistry & Metallurgy","share":0.116},{"year":1995,"cat":"Chemistry & Metallurgy","share":0.126},{"year":1996,"cat":"Chemistry & Metallurgy","share":0.139},{"year":1997,"cat":"Chemistry & Metallurgy","share":0.141},{"year":1998,"cat":"Chemistry & Metallurgy","share":0.083},{"year":1999,"cat":"Chemistry & Metallurgy","share":0.103},
{"year":2000,"cat":"Chemistry & Metallurgy","share":0.095},{"year":2001,"cat":"Chemistry & Metallurgy","share":0.064},{"year":2002,"cat":"Chemistry & Metallurgy","share":0.054},
{"year":1940,"cat":"Agriculture","share":0.028},{"year":1941,"cat":"Agriculture","share":0.031},{"year":1942,"cat":"Agriculture","share":0.027},{"year":1943,"cat":"Agriculture","share":0.048},{"year":1944,"cat":"Agriculture","share":0.050},{"year":1945,"cat":"Agriculture","share":0.065},{"year":1946,"cat":"Agriculture","share":0.069},{"year":1947,"cat":"Agriculture","share":0.073},{"year":1948,"cat":"Agriculture","share":0.080},{"year":1949,"cat":"Agriculture","share":0.070},
{"year":1950,"cat":"Agriculture","share":0.071},{"year":1951,"cat":"Agriculture","share":0.054},{"year":1952,"cat":"Agriculture","share":0.045},{"year":1953,"cat":"Agriculture","share":0.027},{"year":1954,"cat":"Agriculture","share":0.025},{"year":1955,"cat":"Agriculture","share":0.022},{"year":1956,"cat":"Agriculture","share":0.023},{"year":1957,"cat":"Agriculture","share":0.018},{"year":1958,"cat":"Agriculture","share":0.018},{"year":1959,"cat":"Agriculture","share":0.020},
{"year":1960,"cat":"Agriculture","share":0.020},{"year":1961,"cat":"Agriculture","share":0.016},{"year":1962,"cat":"Agriculture","share":0.015},{"year":1963,"cat":"Agriculture","share":0.015},{"year":1964,"cat":"Agriculture","share":0.020},{"year":1965,"cat":"Agriculture","share":0.012},{"year":1966,"cat":"Agriculture","share":0.021},{"year":1967,"cat":"Agriculture","share":0.015},{"year":1968,"cat":"Agriculture","share":0.015},{"year":1969,"cat":"Agriculture","share":0.018},
{"year":1970,"cat":"Agriculture","share":0.014},{"year":1971,"cat":"Agriculture","share":0.017},{"year":1972,"cat":"Agriculture","share":0.018},{"year":1973,"cat":"Agriculture","share":0.014},{"year":1974,"cat":"Agriculture","share":0.016},{"year":1975,"cat":"Agriculture","share":0.020},{"year":1976,"cat":"Agriculture","share":0.016},{"year":1977,"cat":"Agriculture","share":0.018},{"year":1978,"cat":"Agriculture","share":0.011},{"year":1979,"cat":"Agriculture","share":0.007},
{"year":1980,"cat":"Agriculture","share":0.005},{"year":1981,"cat":"Agriculture","share":0.005},{"year":1982,"cat":"Agriculture","share":0.005},{"year":1983,"cat":"Agriculture","share":0.005},{"year":1984,"cat":"Agriculture","share":0.007},{"year":1985,"cat":"Agriculture","share":0.010},{"year":1986,"cat":"Agriculture","share":0.008},{"year":1987,"cat":"Agriculture","share":0.007},{"year":1988,"cat":"Agriculture","share":0.005},{"year":1989,"cat":"Agriculture","share":0.005},
{"year":1990,"cat":"Agriculture","share":0.005},{"year":1991,"cat":"Agriculture","share":0.005},{"year":1992,"cat":"Agriculture","share":0.005},{"year":1993,"cat":"Agriculture","share":0.005},{"year":1994,"cat":"Agriculture","share":0.007},{"year":1995,"cat":"Agriculture","share":0.007},{"year":1996,"cat":"Agriculture","share":0.010},{"year":1997,"cat":"Agriculture","share":0.008},{"year":1998,"cat":"Agriculture","share":0.011},{"year":1999,"cat":"Agriculture","share":0.007},
{"year":2000,"cat":"Agriculture","share":0.005},{"year":2001,"cat":"Agriculture","share":0.004},{"year":2002,"cat":"Agriculture","share":0.004}
]},
"mark": {"type": "area", "strokeWidth": 2, "fillOpacity": 1, "strokeJoin": "round"},
"encoding": {
  "x": {"field": "year", "type": "quantitative",
        "scale": {"domain": [1938.89, 2003.42], "nice": false, "zero": false},
        "axis": {"values": [1940,1950,1960,1970,1980,1990,2000], "format": "d", "title": null,
                 "labelFontSize": 18.5, "labelColor": "#000", "labelFont": "Liberation Sans",
                 "tickSize": 8, "tickColor": "#000", "tickWidth": 1.2, "labelPadding": 4,
                 "domainColor": "#000", "domainWidth": 1.2,
                 "grid": true, "gridColor": "#dddddd", "gridWidth": 1.5}},
  "y": {"field": "share", "type": "quantitative", "stack": "zero",
        "scale": {"domain": [-0.0206, 1.0285], "nice": false, "zero": false},
        "axis": {"values": [0,0.2,0.4,0.6,0.8,1],
                 "labelExpr": "datum.value == 0 ? '0' : (datum.value == 1 ? '1' : replace(format(datum.value, '.1f'), '0.', '.'))",
                 "title": "Share of Breakthrough Patents", "titleFontSize": 25, "titleFontWeight": "normal",
                 "titleFont": "Liberation Sans", "titleColor": "#000", "titlePadding": 21,
                 "labelFontSize": 18.5, "labelColor": "#000", "labelFont": "Liberation Sans",
                 "tickSize": 10, "tickColor": "#000", "tickWidth": 1.2, "labelPadding": 7,
                 "domainColor": "#000", "domainWidth": 1.2,
                 "grid": true, "gridColor": "#dddddd", "gridWidth": 1.5}},
  "fill": {"field": "cat", "type": "nominal",
           "scale": {"domain": ["Transportation","Other","Manufacturing Process","Lightning, Heating & Nuclear","Instruments & Information","Health","Engineering, Construction, & Mining","Electricity & Electronics","Consumer Goods & Entertainment","Chemistry & Metallurgy","Agriculture"],
                     "range": ["#3c79a4","#5a9bc8","#7fb4d9","#b3d5ee","#6b727b","#9ea4ac","#b4bcc6","#fcc188","#fcab61","#db853a","#b76931"]},
           "legend": {"title": null, "orient": "none", "legendX": 836, "legendY": 166,
                      "symbolType": "M-1,-0.7H1V0.7H-1Z", "symbolSize": 529, "symbolStrokeWidth": 2,
                      "labelFontSize": 20.5, "labelFont": "Liberation Sans", "labelColor": "#111",
                      "rowPadding": 6.3, "labelOffset": 14, "padding": 0, "labelLimit": 400,
                      "labelExpr": "datum.label == 'Agriculture' ? '\u00a0Agriculture' : datum.label"}},
  "stroke": {"field": "cat", "type": "nominal",
           "scale": {"domain": ["Transportation","Other","Manufacturing Process","Lightning, Heating & Nuclear","Instruments & Information","Health","Engineering, Construction, & Mining","Electricity & Electronics","Consumer Goods & Entertainment","Chemistry & Metallurgy","Agriculture"],
                     "range": ["#175d92","#4b92c4","#6eaad5","#a4cbea","#4a5058","#949aa3","#a9b1bc","#fdb36f","#fc9d45","#cf6a12","#a64d10"]}},
  "order": {"field": "cat", "sort": "ascending"}
}
}
